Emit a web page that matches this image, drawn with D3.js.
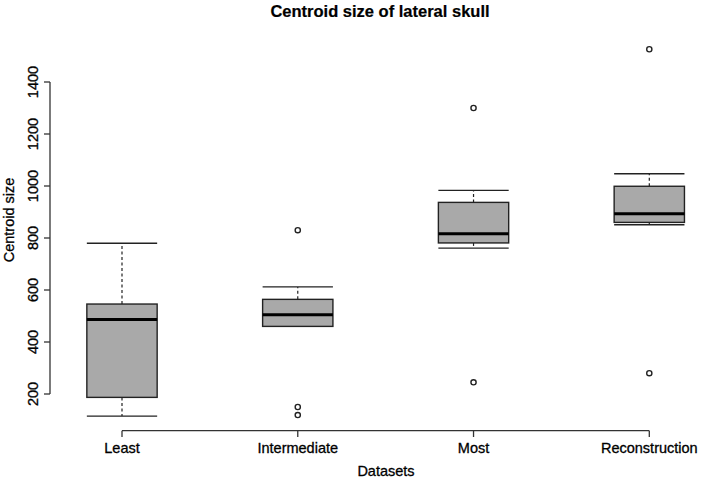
<!DOCTYPE html>
<html>
<head>
<meta charset="utf-8">
<style>
    body { margin: 0; background: #fff; }
    text { font-family: 'Liberation Sans', Arial, sans-serif; fill: #000; stroke: #000; stroke-width: 0.3px; }
    .title { font-size: 16.5px; font-weight: bold; stroke-width: 0.2px; }
    .tick-label { font-size: 14.5px; }
    .axis-title { font-size: 14.5px; }
    .axis-line { stroke: #333; stroke-width: 1.3px; fill: none; }
    .box { fill: #a9a9a9; stroke: #222; stroke-width: 1.4px; }
    .median { stroke: #000; stroke-width: 3px; }
    .whisker { stroke: #222; stroke-width: 1.2px; stroke-dasharray: 3,2.5; }
    .staple { stroke: #222; stroke-width: 1.4px; }
    .outlier { fill: none; stroke: #222; stroke-width: 1.4px; }
</style>
</head>
<body>
<svg id="chart" width="708" height="478"></svg>
<script src="https://cdnjs.cloudflare.com/ajax/libs/d3/7.8.5/d3.min.js"></script>
<script>
    // data
    var categories = ['Least', 'Intermediate', 'Most', 'Reconstruction'];
    var whiskerLow = [115, 460, 761, 851];
    var q1 = [187, 460, 781, 860];
    var median = [487, 505, 816, 893];
    var q3 = [546, 564, 937, 999];
    var whiskerHigh = [780, 612, 983, 1047];
    var outliers = [[], [830, 150, 119], [1300, 245], [1526, 280]];
    var yTicks = [200, 400, 600, 800, 1000, 1200, 1400];

    var svg = d3.select('#chart');

    var x = d3.scalePoint().domain(categories).range([122, 649.3]);
    var y = d3.scaleLinear().domain([200, 1400]).range([394, 82]);
    var boxW = x.step() * 0.4;

    // title
    svg.append('text').attr('class', 'title')
        .attr('x', 380).attr('y', 17)
        .attr('text-anchor', 'middle')
        .text('Centroid size of lateral skull');

    // y axis (R style: line only between end ticks, rotated labels)
    var yAxis = svg.append('g');
    yAxis.append('line').attr('class', 'axis-line')
        .attr('x1', 50).attr('x2', 50)
        .attr('y1', y(yTicks[0])).attr('y2', y(yTicks[yTicks.length - 1]));
    yTicks.forEach(function(t) {
        yAxis.append('line').attr('class', 'axis-line')
            .attr('x1', 44).attr('x2', 50)
            .attr('y1', y(t)).attr('y2', y(t));
        yAxis.append('text').attr('class', 'tick-label')
            .attr('transform', 'translate(37.5,' + y(t) + ') rotate(-90)')
            .attr('text-anchor', 'middle')
            .text(t);
    });
    svg.append('text').attr('class', 'axis-title')
        .attr('transform', 'translate(13.5,220) rotate(-90)')
        .attr('text-anchor', 'middle')
        .text('Centroid size');

    // x axis
    var xAxis = svg.append('g');
    xAxis.append('line').attr('class', 'axis-line')
        .attr('x1', x(categories[0])).attr('x2', x(categories[categories.length - 1]))
        .attr('y1', 430.7).attr('y2', 430.7);
    categories.forEach(function(c) {
        xAxis.append('line').attr('class', 'axis-line')
            .attr('x1', x(c)).attr('x2', x(c))
            .attr('y1', 430.7).attr('y2', 437);
        xAxis.append('text').attr('class', 'tick-label')
            .attr('x', x(c)).attr('y', 453)
            .attr('text-anchor', 'middle')
            .text(c);
    });
    svg.append('text').attr('class', 'axis-title')
        .attr('x', 386).attr('y', 475.5)
        .attr('text-anchor', 'middle')
        .text('Datasets');

    // boxes
    var boxes = svg.append('g');
    categories.forEach(function(c, i) {
        var cx = x(c);
        var g = boxes.append('g');
        // whiskers
        g.append('line').attr('class', 'whisker')
            .attr('x1', cx).attr('x2', cx)
            .attr('y1', y(q3[i])).attr('y2', y(whiskerHigh[i]));
        g.append('line').attr('class', 'whisker')
            .attr('x1', cx).attr('x2', cx)
            .attr('y1', y(q1[i])).attr('y2', y(whiskerLow[i]));
        // staples
        [whiskerLow[i], whiskerHigh[i]].forEach(function(v) {
            g.append('line').attr('class', 'staple')
                .attr('x1', cx - boxW / 2).attr('x2', cx + boxW / 2)
                .attr('y1', y(v)).attr('y2', y(v));
        });
        // box
        g.append('rect').attr('class', 'box')
            .attr('x', cx - boxW / 2).attr('width', boxW)
            .attr('y', y(q3[i])).attr('height', y(q1[i]) - y(q3[i]));
        g.append('line').attr('class', 'median')
            .attr('x1', cx - boxW / 2).attr('x2', cx + boxW / 2)
            .attr('y1', y(median[i])).attr('y2', y(median[i]));
        // outliers
        g.selectAll('circle').data(outliers[i]).enter()
            .append('circle').attr('class', 'outlier')
            .attr('cx', cx).attr('cy', function(d) { return y(d); })
            .attr('r', 2.6);
    });
</script>
</body>
</html>
